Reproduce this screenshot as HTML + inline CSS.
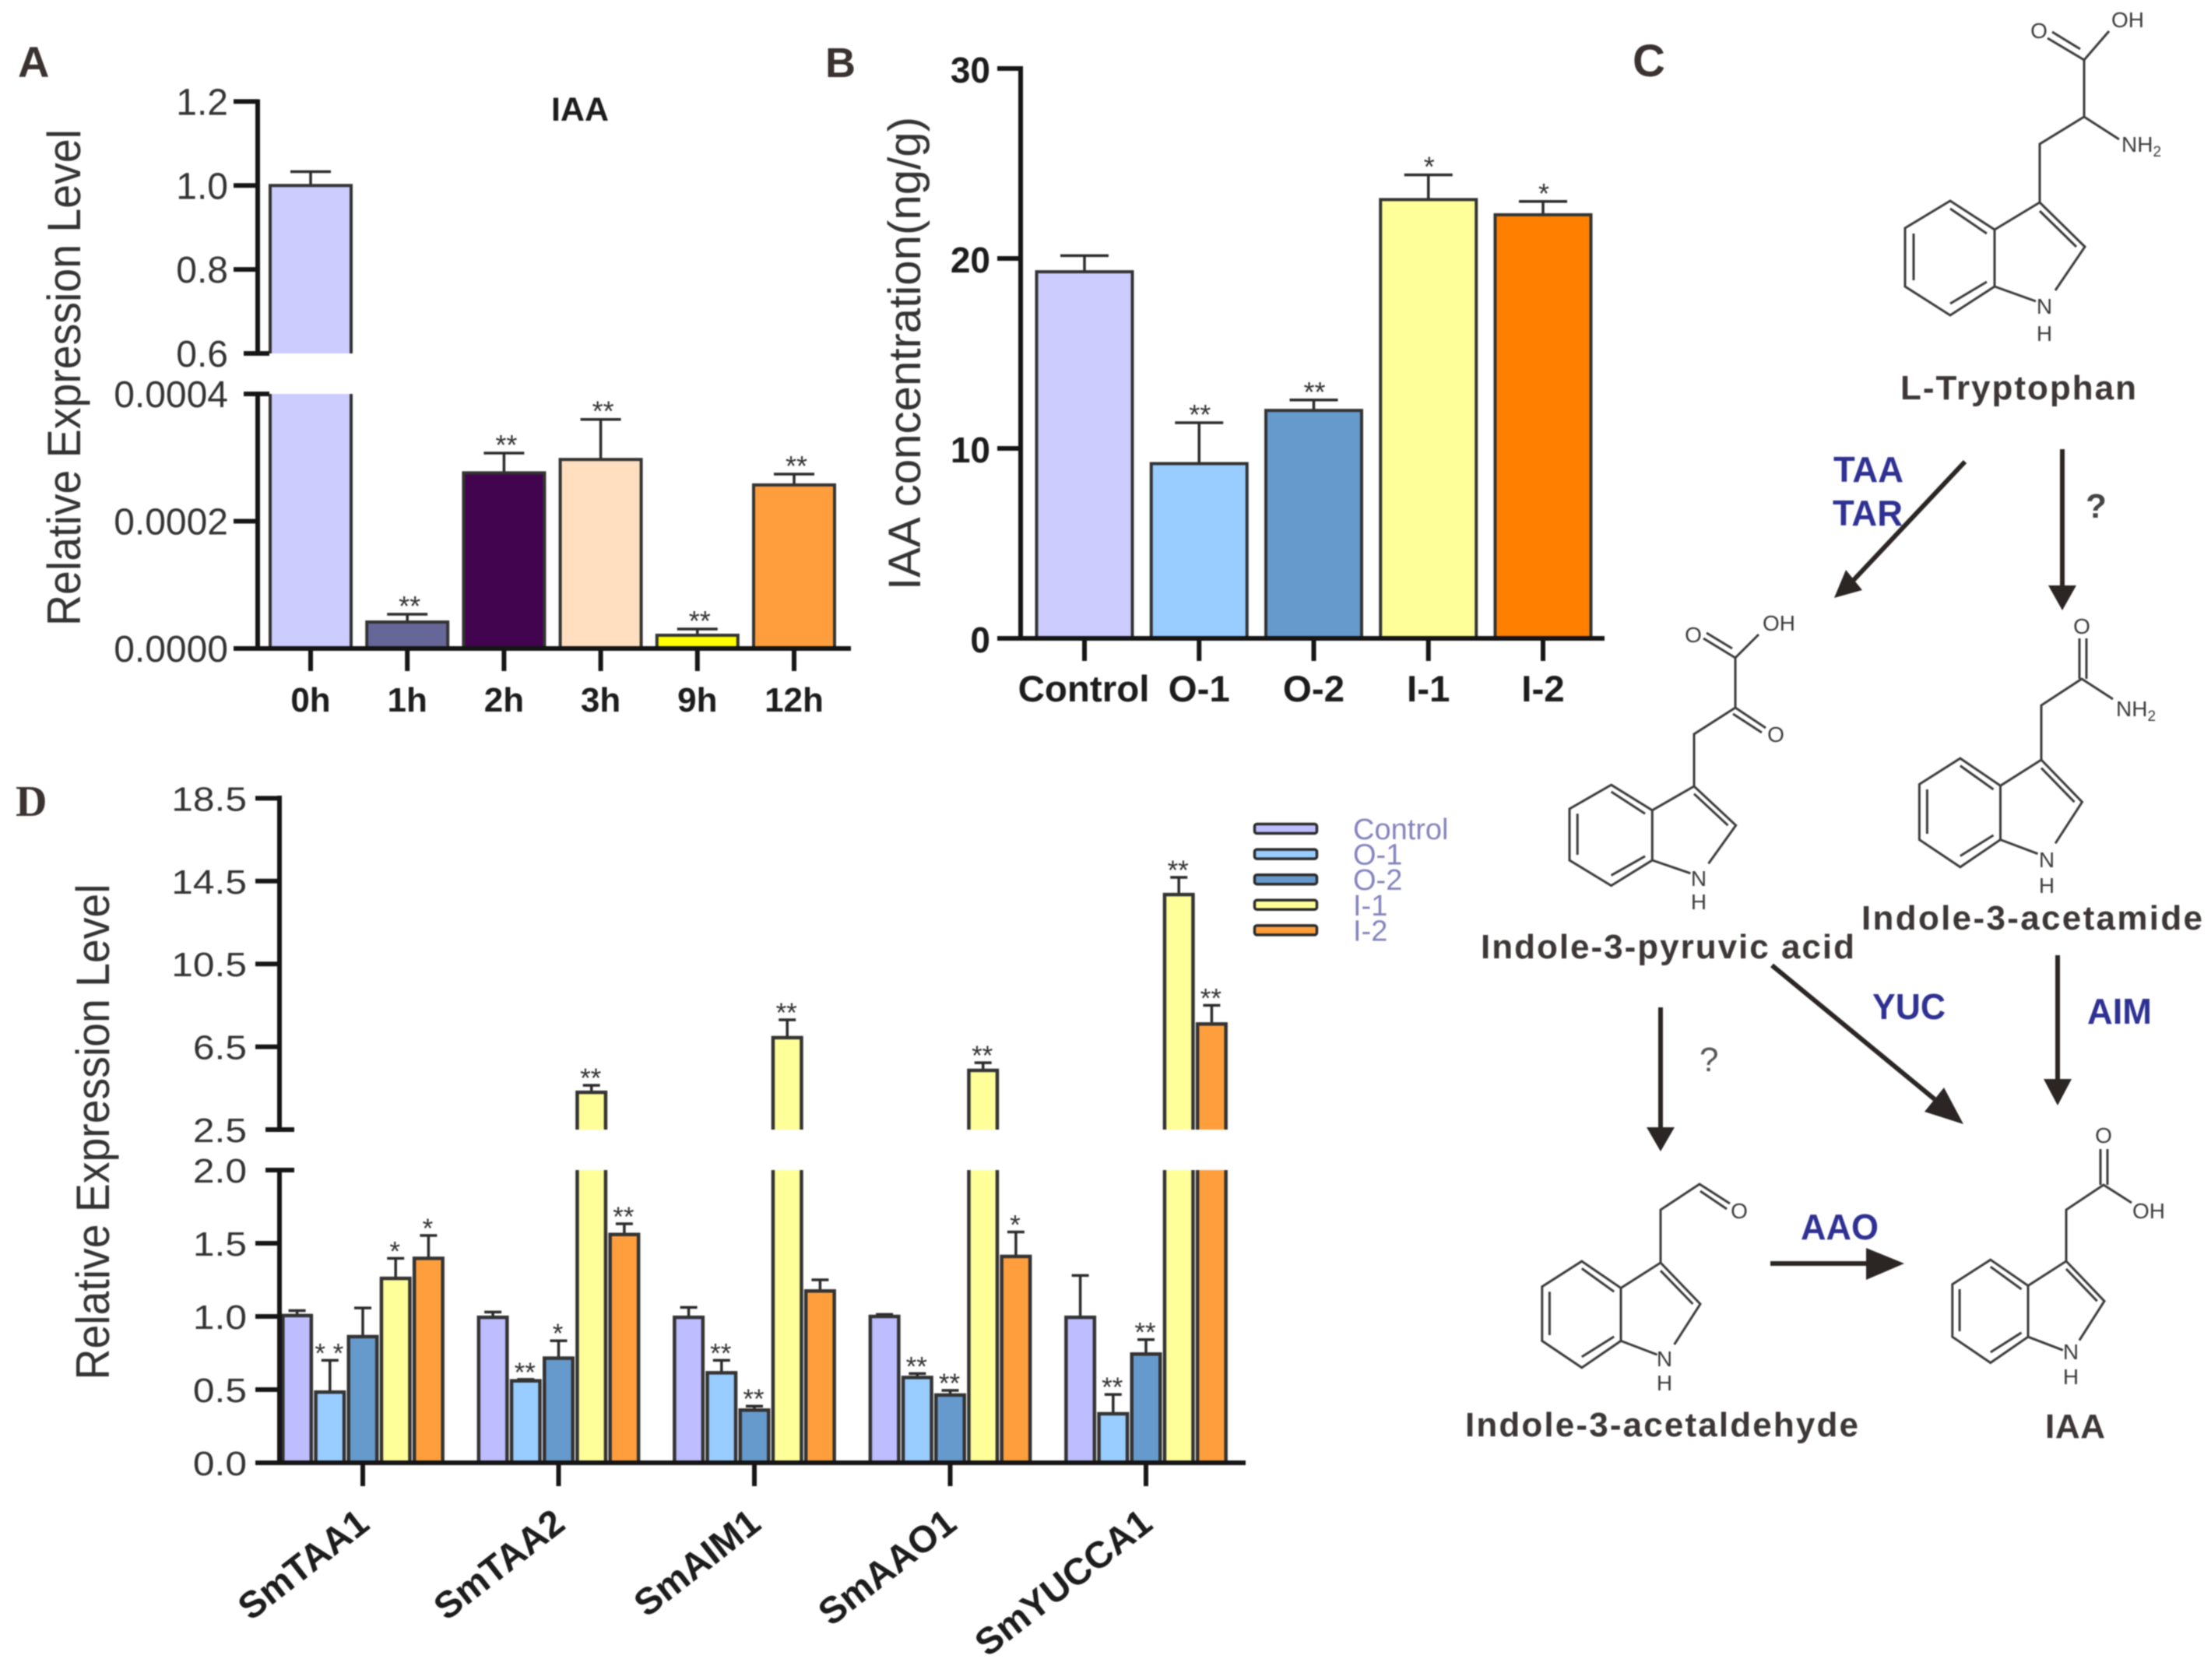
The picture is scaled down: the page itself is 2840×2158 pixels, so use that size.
<!DOCTYPE html>
<html lang="en">
<head>
<meta charset="utf-8">
<title>IAA biosynthesis figure</title>
<style>
html,body{margin:0;padding:0;background:#fff}
svg{display:block;filter:blur(0.7px)}
text{font-family:"Liberation Sans",sans-serif}
.reg{fill:#333}
.bold{font-weight:700;fill:#1c1c1c}
.panel{font-weight:700;fill:#3a3230;font-size:54px}
.atom{font-size:28px;fill:#3a3a3a}
.name{font-weight:700;fill:#3c3636;font-size:44px}
.enz{font-weight:700;fill:#2e3192;font-size:46px}
.bond{stroke:#3a3a3a;stroke-width:3;fill:none}
.arr{stroke:#2b2524;stroke-width:6;fill:none}
.head{fill:#2b2524}
.leg{font-size:38px;fill:#8484bc}
</style>
</head>
<body>
<svg id="fig" xmlns="http://www.w3.org/2000/svg" width="2840" height="2158" viewBox="0 0 2840 2158">
  <rect width="2840" height="2158" fill="#fff"/>

  <text class="panel" x="23" y="99" style="font-size:56px">A</text>
  <text class="panel" x="1060" y="99">B</text>
  <text class="panel" x="2097" y="98" style="font-size:58px">C</text>
  <text class="panel" x="20" y="1048" style="font-family:'Liberation Serif',serif;font-size:56px">D</text>

  <text class="bold" x="745" y="155" text-anchor="middle" font-size="43">IAA</text>
  <text class="reg" transform="translate(103,485) rotate(-90)" text-anchor="middle" font-size="60" textLength="638" lengthAdjust="spacingAndGlyphs">Relative Expression Level</text>
  <text class="reg" transform="translate(1182,454) rotate(-90)" text-anchor="middle" font-size="58" textLength="608" lengthAdjust="spacingAndGlyphs">IAA concentration(ng/g)</text>
  <text class="reg" transform="translate(140,1454) rotate(-90)" text-anchor="middle" font-size="60" textLength="637" lengthAdjust="spacingAndGlyphs">Relative Expression Level</text>

  <g id="chartA"></g>
  <g id="chartB"></g>
  <g id="chartD"></g>

  <g id="pathway">
    <g id="rings"></g>

    <g>
      <path class="bond" d="M2620 260V185L2677 150L2722 179M2677 150V77L2709 40M2677 77L2630 49M2672 63L2636 41"/>
      <text class="atom" x="2733" y="35" text-anchor="middle">OH</text>
      <text class="atom" x="2619" y="49" text-anchor="middle">O</text>
      <text class="atom" x="2725" y="195">NH<tspan font-size="19" dy="6">2</tspan></text>
      <text class="atom" x="2626" y="403" text-anchor="middle">N</text>
      <text class="atom" x="2626" y="438" text-anchor="middle">H</text>
    </g>
    <text class="name" x="2441" y="513" textLength="303">L-Tryptophan</text>

    <g>
      <path class="bond" d="M2176 1010V943L2229 909L2268 935M2226 917L2263 941M2229 909V845L2259 815M2229 845L2188 820M2225 833L2192 813"/>
      <text class="atom" x="2281" y="953" text-anchor="middle">O</text>
      <text class="atom" x="2175" y="825" text-anchor="middle">O</text>
      <text class="atom" x="2285" y="810" text-anchor="middle">OH</text>
      <text class="atom" x="2182" y="1138" text-anchor="middle">N</text>
      <text class="atom" x="2182" y="1168" text-anchor="middle">H</text>
    </g>
    <text class="name" x="1902" y="1231" textLength="480">Indole-3-pyruvic acid</text>

    <g>
      <path class="bond" d="M2622 976V906L2674 872L2714 898M2671 872V820M2680 872V820"/>
      <text class="atom" x="2674" y="814" text-anchor="middle">O</text>
      <text class="atom" x="2718" y="920">NH<tspan font-size="19" dy="6">2</tspan></text>
      <text class="atom" x="2629" y="1114" text-anchor="middle">N</text>
      <text class="atom" x="2629" y="1147" text-anchor="middle">H</text>
    </g>
    <text class="name" x="2391" y="1194" textLength="438">Indole-3-acetamide</text>

    <g>
      <path class="bond" d="M2133 1622V1554L2183 1521L2222 1546M2184 1530L2218 1553"/>
      <text class="atom" x="2234" y="1565" text-anchor="middle">O</text>
      <text class="atom" x="2138" y="1755" text-anchor="middle">N</text>
      <text class="atom" x="2138" y="1786" text-anchor="middle">H</text>
    </g>
    <text class="name" x="1882" y="1845" textLength="505">Indole-3-acetaldehyde</text>

    <g>
      <path class="bond" d="M2654 1620V1554L2702 1522L2738 1545M2698 1522V1476M2707 1522V1476"/>
      <text class="atom" x="2702" y="1468" text-anchor="middle">O</text>
      <text class="atom" x="2760" y="1565" text-anchor="middle">OH</text>
      <text class="atom" x="2660" y="1746" text-anchor="middle">N</text>
      <text class="atom" x="2660" y="1778" text-anchor="middle">H</text>
    </g>
    <text class="name" x="2627" y="1847" textLength="77">IAA</text>

    <g><line class="arr" x1="2524" y1="593" x2="2381" y2="745"/><polygon class="head" points="2356,768 2371,732 2392,758"/></g>
    <g><line class="arr" x1="2649" y1="577" x2="2649" y2="755"/><polygon class="head" points="2649,784 2631,752 2667,752"/></g>
    <g><line class="arr" x1="2276" y1="1240" x2="2485" y2="1412"/><polygon class="head" points="2522,1444 2497,1397 2472,1428"/></g>
    <g><line class="arr" x1="2643" y1="1227" x2="2643" y2="1390"/><polygon class="head" points="2643,1420 2625,1386 2661,1386"/></g>
    <g><line class="arr" x1="2133" y1="1294" x2="2133" y2="1452"/><polygon class="head" points="2133,1479 2115,1448 2151,1448"/></g>
    <g><line class="arr" x1="2274" y1="1623" x2="2402" y2="1623"/><polygon class="head" points="2446,1623 2397,1603 2397,1644"/></g>

    <text class="enz" x="2355" y="619" textLength="90" lengthAdjust="spacingAndGlyphs">TAA</text>
    <text class="enz" x="2354" y="675" textLength="90" lengthAdjust="spacingAndGlyphs">TAR</text>
    <text class="enz" x="2405" y="1309" textLength="94" lengthAdjust="spacingAndGlyphs">YUC</text>
    <text class="enz" x="2681" y="1315" textLength="83" lengthAdjust="spacingAndGlyphs">AIM</text>
    <text class="enz" x="2313" y="1592" textLength="100" lengthAdjust="spacingAndGlyphs">AAO</text>
    <text x="2679" y="665" font-size="44" font-weight="700" fill="#444">?</text>
    <text x="2183" y="1376" font-size="44" fill="#555">?</text>
  </g>
</svg>

<script>
// Chart A data
const aCategories = ['0h', '1h', '2h', '3h', '9h', '12h'];
const aValues = [1.0, 0.0000416, 0.000276, 0.000297, 0.0000208, 0.000257];
const aErrors = [0.033, 0.0000122, 0.000031, 0.000063, 0.0000098, 0.000017];
const aStars = ['', '**', '**', '**', '**', '**'];
const aColors = ['#ccccff', '#666699', '#42044f', '#ffdfbf', '#ffff00', '#ff9e3c'];
const aUpperTicks = ['0.6', '0.8', '1.0', '1.2'];
const aLowerTicks = ['0.0000', '0.0002', '0.0004'];

// Chart B data
const bCategories = ['Control', 'O-1', 'O-2', 'I-1', 'I-2'];
const bValues = [19.3, 9.2, 12.0, 23.1, 22.3];
const bErrors = [0.85, 2.15, 0.55, 1.3, 0.7];
const bStars = ['', '**', '**', '*', '*'];
const bColors = ['#ccccff', '#99ccff', '#6699cc', '#ffff99', '#ff8000'];
const bTicks = ['0', '10', '20', '30'];

// Chart D data
const dGenes = ['SmTAA1', 'SmTAA2', 'SmAIM1', 'SmAAO1', 'SmYUCCA1'];
const dSeriesNames = ['Control', 'O-1', 'O-2', 'I-1', 'I-2'];
const dControl = [1.006, 0.994, 0.994, 1.0, 0.994];
const dO1 = [0.483, 0.56, 0.615, 0.583, 0.335];
const dO2 = [0.862, 0.715, 0.36, 0.463, 0.743];
const dI1 = [1.26, 4.3, 6.94, 5.36, 13.85];
const dI2 = [1.397, 1.56, 1.174, 1.41, 7.6];
const dControlErr = [0.034, 0.036, 0.068, 0.014, 0.286];
const dO1Err = [0.217, 0.01, 0.085, 0.027, 0.132];
const dO2Err = [0.196, 0.119, 0.027, 0.032, 0.099];
const dI1Err = [0.137, 0.34, 0.86, 0.37, 0.83];
const dI2Err = [0.156, 0.073, 0.076, 0.167, 0.9];
const dControlStars = ['', '', '', '', ''];
const dO1Stars = ['* *', '**', '**', '**', '**'];
const dO2Stars = ['', '*', '**', '**', '**'];
const dI1Stars = ['*', '**', '**', '**', '**'];
const dI2Stars = ['*', '**', '', '*', '**'];
const dColors = ['#bdbdff', '#99ccff', '#6699cc', '#ffff99', '#ff9e3c'];
const dUpperTicks = ['2.5', '6.5', '10.5', '14.5', '18.5'];
const dLowerTicks = ['0.0', '0.5', '1.0', '1.5', '2.0'];

const NS = 'http://www.w3.org/2000/svg';
function mk(parent, tag, attrs, txt) {
  const e = document.createElementNS(NS, tag);
  for (const k in attrs) e.setAttribute(k, attrs[k]);
  if (txt !== undefined) e.textContent = txt;
  parent.appendChild(e);
  return e;
}
const DARK = '#151515';
function axisLine(parent, x1, y1, x2, y2, w, name) {
  const l = mk(parent, 'line', {x1: x1, y1: y1, x2: x2, y2: y2, stroke: DARK, 'stroke-width': w});
  
  
  return l;
}
function drawBar(parent, key, cx, w, yTop, yBase, yErr, cap, color, star, starSize, starOff, sw, starDx) {
  const g = mk(parent, 'g', {});
  
  
  mk(g, 'line', {x1: cx, y1: yTop, x2: cx, y2: yErr, stroke: '#2a2a2a', 'stroke-width': 3.5});
  mk(g, 'line', {x1: cx - cap, y1: yErr, x2: cx + cap, y2: yErr, stroke: '#2a2a2a', 'stroke-width': 3.5});
  mk(g, 'rect', {x: cx - w / 2 + sw / 2, y: yTop, width: w - sw, height: yBase - yTop, fill: color, stroke: '#333', 'stroke-width': sw});
  if (star) {
    mk(g, 'text', {x: cx + starDx, y: yErr + starOff, 'text-anchor': 'middle', 'font-size': starSize, fill: '#333', 'xml:space': 'preserve'}, star);
  }
}

// ---------- Chart A ----------
const chartA = document.getElementById('chartA');
function aX(i) { return 399 + i * 124.2; }
function aY(v) { return v > 0.0004 ? 454 - (v - 0.6) * 539.3 : 833 - v * 817500; }
aCategories.forEach(function (c, i) {
  drawBar(chartA, 'a-' + c, aX(i), 108, aY(aValues[i]), 833, aY(aValues[i] + aErrors[i]), 26, aColors[i], aStars[i], 36, 2, 4, 3);
});
const aGap = mk(chartA, 'rect', {x: 340, y: 454, width: 740, height: 52, fill: '#fff'});


axisLine(chartA, 331, 127.5, 331, 457, 6, 'y-axis-upper');
axisLine(chartA, 331, 503, 331, 836, 6, 'y-axis-lower');
axisLine(chartA, 300, 833, 1093, 833, 6, 'x-axis');
aUpperTicks.concat(aLowerTicks).forEach(function (t) {
  const v = parseFloat(t);
  const y = aY(v);
  const isBreak = t === '0.6' || t === '0.0004';
  axisLine(chartA, isBreak ? 313 : 300, y, isBreak ? 346 : 331, y, 6, 'y-tick-' + t);
  const lab = mk(chartA, 'text', {x: 293, y: y + 17, 'text-anchor': 'end', 'font-size': 48, 'class': 'reg'}, t);
  
  
});
aCategories.forEach(function (c, i) {
  axisLine(chartA, aX(i), 833, aX(i), 862, 6, 'x-tick-' + c);
  const lab = mk(chartA, 'text', {x: aX(i), y: 914, 'text-anchor': 'middle', 'font-size': 44, 'class': 'bold'}, c);
  
  
});

// ---------- Chart B ----------
const chartB = document.getElementById('chartB');
function bX(i) { return 1393 + i * 147.25; }
function bY(v) { return 820 - v * 24.4; }
bCategories.forEach(function (c, i) {
  drawBar(chartB, 'b-' + c, bX(i), 127, bY(bValues[i]), 820, bY(bValues[i] + bErrors[i]), 31, bColors[i], bStars[i], 36, 2, 4, 1);
});
axisLine(chartB, 1311, 85, 1311, 823, 6, 'y-axis');
axisLine(chartB, 1281, 820, 2061, 820, 6, 'x-axis');
bTicks.forEach(function (t) {
  const y = bY(parseFloat(t));
  axisLine(chartB, 1281, y, 1311, y, 6, 'y-tick-' + t);
  const lab = mk(chartB, 'text', {x: 1272, y: y + 18, 'text-anchor': 'end', 'font-size': 46, 'class': 'bold'}, t);
  
  
});
bCategories.forEach(function (c, i) {
  axisLine(chartB, bX(i), 820, bX(i), 849, 6, 'x-tick-' + c);
  const lab = mk(chartB, 'text', {x: bX(i) - (i === 0 ? 1 : 0), y: 901, 'text-anchor': 'middle', 'font-size': 47.5, 'class': 'bold'}, c);
  
  
});

// ---------- Chart D ----------
const chartD = document.getElementById('chartD');
const dValues = [dControl, dO1, dO2, dI1, dI2];
const dErrors = [dControlErr, dO1Err, dO2Err, dI1Err, dI2Err];
const dStars = [dControlStars, dO1Stars, dO2Stars, dI1Stars, dI2Stars];
function dGroupX(g) { return 466 + g * 251.5; }
function dX(g, s) { return dGroupX(g) + (s - 2) * 42.2; }
function dY(v) { return v > 2 ? 1451 - (v - 2.5) * 26.6 : 1879 - v * 188; }
dGenes.forEach(function (gene, g) {
  dSeriesNames.forEach(function (sn, s) {
    const v = dValues[s][g];
    drawBar(chartD, 'd-' + gene + '-' + sn, dX(g, s), 41, dY(v), 1879, dY(v + dErrors[s][g]), 11, dColors[s], dStars[s][g], 35, 3, 4.5, -1);
  });
});
const dGap = mk(chartD, 'rect', {x: 380, y: 1451, width: 1210, height: 52, fill: '#fff'});


axisLine(chartD, 359, 1022, 359, 1454, 6, 'y-axis-upper');
axisLine(chartD, 359, 1500, 359, 1882, 6, 'y-axis-lower');
axisLine(chartD, 328, 1879, 1600, 1879, 6, 'x-axis');
dUpperTicks.concat(dLowerTicks).forEach(function (t) {
  const y = dY(parseFloat(t));
  const isBreak = t === '2.5' || t === '2.0';
  axisLine(chartD, isBreak ? 341 : 328, y, isBreak ? 378 : 359, y, 6, 'y-tick-' + t);
  const lab = mk(chartD, 'text', {transform: 'translate(317,' + (y + 16) + ') scale(1.13,1)', 'text-anchor': 'end', 'font-size': 44, 'class': 'reg'}, t);
  
  
});
dGenes.forEach(function (gene, g) {
  axisLine(chartD, dGroupX(g), 1879, dGroupX(g), 1909, 6, 'x-tick-' + gene);
  const lab = mk(chartD, 'text', {transform: 'translate(' + (dGroupX(g) + 11) + ',1962) rotate(-38)', 'text-anchor': 'end', 'font-size': 48, 'class': 'bold'}, gene);
  
  
});
// Legend
const legendSwatchTops = dSeriesNames.map(function (n, i) { return 1057 + i * 32.6; });
dSeriesNames.forEach(function (n, i) {
  const g = mk(chartD, 'g', {});
  
  
  mk(g, 'rect', {x: 1611.5, y: legendSwatchTops[i] + 1.5, width: 80, height: 12, rx: 3, fill: dColors[i], stroke: '#2a2a2a', 'stroke-width': 3.5});
  mk(g, 'text', {x: 1738, y: legendSwatchTops[i] + 21, 'class': 'leg'}, n);
});

// ---------- Indole rings ----------
const rings = document.getElementById('rings');
function drawIndole(name, x, y, sx, sy) {
  function p(a, b) { return (x + a * sx).toFixed(1) + ' ' + (y + b * sy).toFixed(1); }
  const d = 'M' + p(-115, -2) + 'L' + p(-58, 35) + 'L' + p(-58, 108) + 'L' + p(-115, 145) + 'L' + p(-173, 108) + 'L' + p(-173, 33) + 'Z' +
    'M' + p(-58, 35) + 'L' + p(0, 0) + 'L' + p(58, 57) + 'L' + p(20, 113) +
    'M' + p(-58, 108) + 'L' + p(-5, 127) +
    'M' + p(-115, 8) + 'L' + p(-68, 40) +
    'M' + p(-162, 40) + 'L' + p(-162, 100) +
    'M' + p(-115, 130) + 'L' + p(-68, 102) +
    'M' + p(0, 11) + 'L' + p(47, 57);
  const e = mk(rings, 'path', {d: d, 'class': 'bond'});
  
  
}
drawIndole('indole-tryptophan', 2620, 260, 1, 1);
drawIndole('indole-pyruvic-acid', 2176, 1010, 0.925, 0.88);
drawIndole('indole-acetamide', 2622, 976, 0.905, 0.95);
drawIndole('indole-acetaldehyde', 2133, 1622, 0.88, 0.93);
drawIndole('indole-iaa', 2654, 1620, 0.845, 0.9);
</script>
</body>
</html>
